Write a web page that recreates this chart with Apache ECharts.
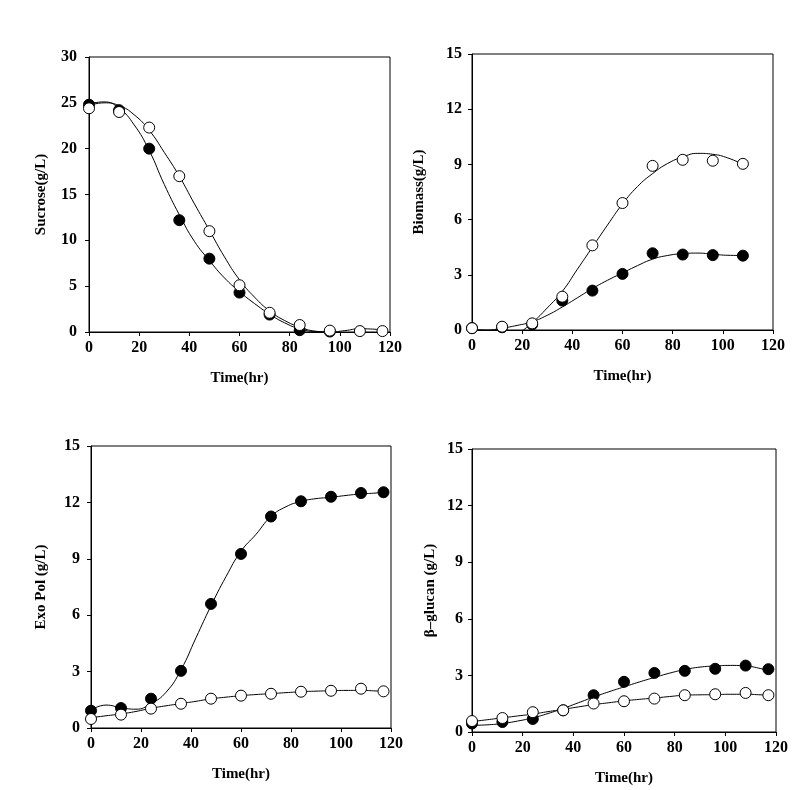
<!DOCTYPE html>
<html>
<head>
<meta charset="utf-8">
<script src="https://cdn.jsdelivr.net/npm/echarts@6/dist/echarts.min.js"></script>
<style>
html,body{margin:0;padding:0;background:#fff;}
#chart{width:804px;height:790px;}
</style>
</head>
<body>
<div id="chart"></div>
<script>
// ---- Data ----
var time = [0, 12, 24, 36, 48, 60, 72, 84, 96, 108, 117];
var timeBio = [0, 12, 24, 36, 48, 60, 72, 84, 96, 108];
var xTicks = [0, 20, 40, 60, 80, 100, 120];

// Sucrose (g/L)
var sucroseFilled = [24.8, 24.2, 20.0, 12.2, 8.0, 4.3, 1.9, 0.2, 0.05];
var sucroseOpen = [24.4, 24.0, 22.3, 17.0, 11.0, 5.1, 2.1, 0.76, 0.15, 0.1, 0.1];
var sucroseFitTFilled = [0, 6, 12, 18, 24, 30, 36, 42, 48, 54, 60, 66, 72, 78, 84, 90, 96];
var sucroseFitFilled = [24.9, 25.1, 24.4, 22.6, 19.8, 16.1, 12.8, 9.9, 7.8, 5.9, 4.4, 3.1, 1.95, 1.0, 0.35, 0.05, 0.0];
var fitT = [0, 6, 12, 18, 24, 30, 36, 42, 48, 54, 60, 66, 72, 78, 84, 90, 96, 102, 108, 114, 117];
var sucroseFitOpen = [24.7, 25.0, 24.7, 23.7, 22.0, 19.6, 17.0, 14.0, 11.1, 8.2, 5.7, 3.8, 2.3, 1.25, 0.55, 0.1, 0.0, 0.15, 0.35, 0.3, 0.15];

// Biomass (g/L)
var bioFilled = [0.1, 0.15, 0.3, 1.6, 2.14, 3.05, 4.17, 4.1, 4.07, 4.04];
var bioOpen = [0.1, 0.18, 0.36, 1.81, 4.6, 6.9, 8.92, 9.25, 9.2, 9.03];
var bioFitT = [0, 6, 12, 18, 24, 30, 36, 42, 48, 54, 60, 66, 72, 78, 84, 90, 96, 102, 108];
var bioFitFilled = [0.05, 0.0, 0.1, 0.25, 0.45, 0.8, 1.25, 1.75, 2.25, 2.7, 3.1, 3.5, 3.85, 4.05, 4.15, 4.18, 4.12, 4.06, 4.05];
var bioFitOpen = [0.1, -0.35, -0.5, -0.2, 0.4, 1.2, 2.1, 3.3, 4.5, 5.7, 6.85, 7.8, 8.5, 9.05, 9.4, 9.6, 9.55, 9.35, 9.0];

// Exo Pol (g/L)
var exoFilled = [0.92, 1.06, 1.56, 3.04, 6.6, 9.26, 11.25, 12.06, 12.3, 12.5, 12.54];
var exoOpen = [0.48, 0.71, 1.03, 1.29, 1.56, 1.72, 1.82, 1.93, 1.98, 2.09, 1.95];
var exoFitFilled = [0.95, 1.22, 1.08, 1.0, 1.3, 1.9, 3.1, 4.8, 6.5, 8.05, 9.4, 10.3, 11.25, 11.77, 12.05, 12.2, 12.27, 12.37, 12.45, 12.5, 12.55];
var exoFitOpen = [0.55, 0.65, 0.75, 0.88, 1.05, 1.18, 1.3, 1.42, 1.55, 1.64, 1.72, 1.78, 1.83, 1.88, 1.93, 1.96, 1.98, 2.0, 2.0, 1.97, 1.95];

// beta-glucan (g/L)
var gluFilled = [0.45, 0.53, 0.69, 1.15, 1.95, 2.66, 3.13, 3.24, 3.35, 3.52, 3.33];
var gluOpen = [0.58, 0.74, 1.05, 1.15, 1.51, 1.63, 1.77, 1.95, 2.0, 2.07, 1.95];
var gluFitFilled = [0.35, 0.38, 0.45, 0.58, 0.75, 0.98, 1.25, 1.55, 1.85, 2.13, 2.39, 2.65, 2.89, 3.12, 3.31, 3.44, 3.5, 3.53, 3.5, 3.36, 3.24];
var gluFitOpen = [0.55, 0.65, 0.75, 0.85, 0.95, 1.08, 1.2, 1.33, 1.45, 1.55, 1.65, 1.73, 1.8, 1.88, 1.95, 1.97, 1.98, 2.0, 2.0, 1.97, 1.95];

var yTitles = ['Sucrose(g/L)', 'Biomass(g/L)', 'Exo Pol (g/L)', '\u03b2\u2013glucan (g/L)'];
var xTitle = 'Time(hr)';

// ---- Build chart ----
var FONT = '"Liberation Serif", "Times New Roman", serif';
function zip(xs, ys) { return xs.map(function (x, i) { return [x, ys[i]]; }).filter(function (p) { return p[1] !== undefined; }); }

var grids = [
  {left: 89, top: 57, width: 301, height: 275},
  {left: 472, top: 54, width: 301, height: 276},
  {left: 91, top: 446, width: 300, height: 282},
  {left: 472, top: 449, width: 304, height: 283}
];
var yMax = [30, 15, 15, 15];
var yInt = [5, 3, 3, 3];
var yGap = [40, 45, 42, 34];
var yMargin = [12, 10, 11, 9];

var xAxes = [], yAxes = [], series = [];
grids.forEach(function (g, i) {
  g.show = true; g.borderColor = '#000'; g.borderWidth = 1; g.backgroundColor = 'transparent';
  xAxes.push({
    gridIndex: i, type: 'value', min: xTicks[0], max: xTicks[xTicks.length - 1], interval: xTicks[1] - xTicks[0],
    name: xTitle, nameLocation: 'middle', nameGap: 39,
    nameTextStyle: {fontFamily: FONT, fontWeight: 'bold', fontSize: 15, color: '#000'},
    axisLine: {lineStyle: {color: '#000', width: 1}},
    axisTick: {inside: false, length: 4, lineStyle: {color: '#000'}},
    axisLabel: {fontFamily: FONT, fontWeight: 'bold', fontSize: 16, color: '#000', margin: 8},
    splitLine: {show: false}
  });
  yAxes.push({
    gridIndex: i, type: 'value', min: 0, max: yMax[i], interval: yInt[i],
    name: yTitles[i], nameLocation: 'middle', nameGap: yGap[i], nameRotate: 90,
    nameTextStyle: {fontFamily: FONT, fontWeight: 'bold', fontSize: 15, color: '#000'},
    axisLine: {lineStyle: {color: '#000', width: 1}},
    axisTick: {inside: false, length: 4, lineStyle: {color: '#000'}},
    axisLabel: {fontFamily: FONT, fontWeight: 'bold', fontSize: 16, color: '#000', margin: yMargin[i]},
    splitLine: {show: false}
  });
});

function fitLine(i, xs, ys) {
  return {type: 'line', xAxisIndex: i, yAxisIndex: i, data: zip(xs, ys), smooth: 0.5, showSymbol: false, symbol: 'none',
    clip: true, lineStyle: {color: '#000', width: 1}, z: 2, silent: true};
}
function pts(i, xs, ys, filled) {
  return {type: 'scatter', xAxisIndex: i, yAxisIndex: i, data: zip(xs, ys), symbol: 'circle', symbolSize: 11,
    itemStyle: {color: filled ? '#000' : '#fff', borderColor: '#000', borderWidth: 1, opacity: 1}, z: filled ? 3 : 4, silent: true};
}

series.push(fitLine(0, sucroseFitTFilled, sucroseFitFilled), fitLine(0, fitT, sucroseFitOpen),
  pts(0, time, sucroseFilled, true), pts(0, time, sucroseOpen, false));
series.push(fitLine(1, bioFitT, bioFitFilled), fitLine(1, bioFitT, bioFitOpen),
  pts(1, timeBio, bioFilled, true), pts(1, timeBio, bioOpen, false));
series.push(fitLine(2, fitT, exoFitFilled), fitLine(2, fitT, exoFitOpen),
  pts(2, time, exoFilled, true), pts(2, time, exoOpen, false));
series.push(fitLine(3, fitT, gluFitFilled), fitLine(3, fitT, gluFitOpen),
  pts(3, time, gluFilled, true), pts(3, time, gluOpen, false));

var chart = echarts.init(document.getElementById('chart'), null, {renderer: 'canvas'});
chart.setOption({
  backgroundColor: '#fff',
  animation: false,
  grid: grids,
  xAxis: xAxes,
  yAxis: yAxes,
  series: series
});
</script>
</body>
</html>
